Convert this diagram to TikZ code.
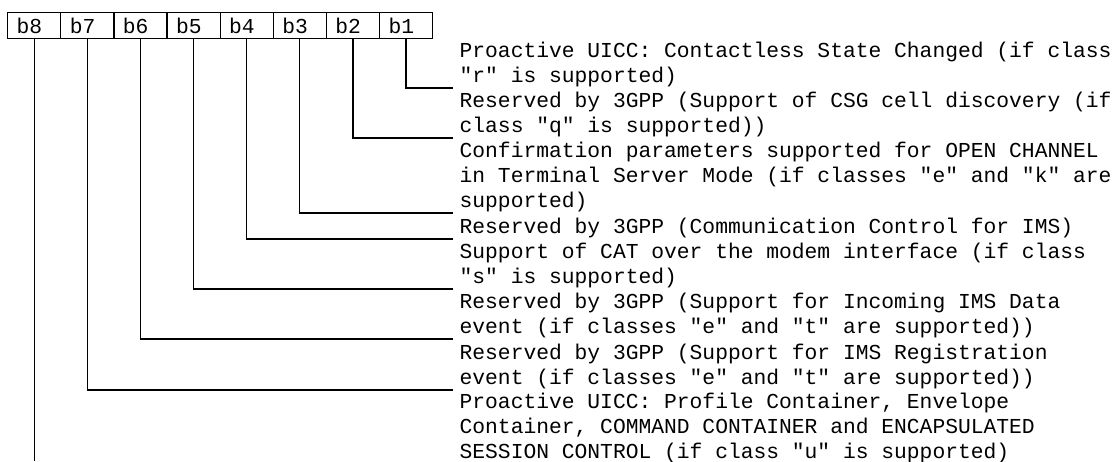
\documentclass[tikz,border=0pt]{standalone}
\usepackage{fontspec}
\newfontfamily\cour{Liberation Mono}
\begin{document}
\begin{tikzpicture}[x=1pt,y=-1pt,line width=1.3pt,
  txt/.style={font=\cour\fontsize{21.3}{25}\selectfont},
  cell/.style={txt,draw,anchor=north west,minimum height=26pt,inner xsep=9pt,inner ysep=0pt,text width=35.125pt,align=left},
  desc/.style={txt,anchor=base west,inner sep=0pt,align=left},
  conn/.style={line width=1.3pt}]
\useasboundingbox (0,0) rectangle (1116,461);
% bit cells
\foreach \i [evaluate=\i as \x using {7+(8-\i)*53.125}] in {8,7,6,5,4,3,2,1}
  \node[cell] (c\i) at (\x,12) {b\i};
% descriptions (anchor at baseline of last line)
\node[desc] (t1) at (459,82) {Proactive UICC: Contactless State Changed (if class\\"r" is supported)};
\node[desc] (t2) at (459,132) {Reserved by 3GPP (Support of CSG cell discovery (if\\class "q" is supported))};
\node[desc] (t3) at (459,207) {Confirmation parameters supported for OPEN CHANNEL\\in Terminal Server Mode (if classes "e" and "k" are\\supported)};
\node[desc] (t4) at (459,233) {Reserved by 3GPP (Communication Control for IMS)};
\node[desc] (t5) at (459,283) {Support of CAT over the modem interface (if class\\"s" is supported)};
\node[desc] (t6) at (459,333) {Reserved by 3GPP (Support for Incoming IMS Data\\event (if classes "e" and "t" are supported))};
\node[desc] (t7) at (459,384) {Reserved by 3GPP (Support for IMS Registration\\event (if classes "e" and "t" are supported))};
\node[desc] (t8) at (459,458) {Proactive UICC: Profile Container, Envelope\\Container, COMMAND CONTAINER and ENCAPSULATED\\SESSION CONTROL (if class "u" is supported)};
% connector ends
\coordinate (e1) at (453,88);
\coordinate (e2) at (453,138);
\coordinate (e3) at (453,213);
\coordinate (e4) at (453,239);
\coordinate (e5) at (453,289);
\coordinate (e6) at (453,339);
\coordinate (e7) at (453,390);
\coordinate (e8) at (c8.south |- 0,461);
% connectors
\foreach \i in {1,...,7} \draw[conn] (c\i.south) |- (e\i);
\draw[conn] (c8.south) -- (e8);
\end{tikzpicture}
\end{document}
